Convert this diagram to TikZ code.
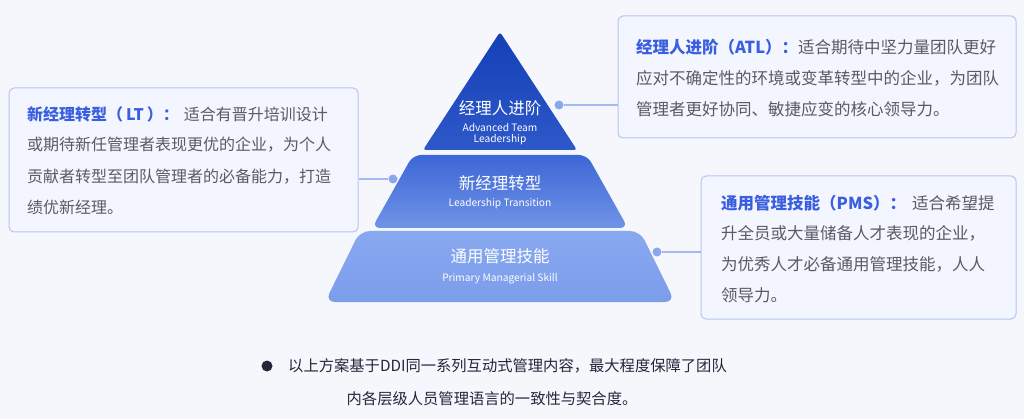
\documentclass[tikz,border=0pt]{standalone}
\usepackage{fontspec}
\setmainfont{Noto Sans CJK SC}
\newfontfamily\cjkfont{Noto Sans CJK SC}
\definecolor{bg}{HTML}{F5F7FD}
\definecolor{boxfill}{HTML}{F3F6FE}
\definecolor{boxline}{HTML}{B3C6F3}
\definecolor{conn}{HTML}{A2BAF0}
\definecolor{dotc}{HTML}{8AA7EE}
\definecolor{hdblue}{HTML}{3A5EE0}
\definecolor{bodygray}{HTML}{5A5A66}
\definecolor{darktxt}{HTML}{26263A}
\definecolor{topA}{HTML}{1440B6}
\definecolor{topB}{HTML}{2E58CA}
\definecolor{midA}{HTML}{3C66D6}
\definecolor{midB}{HTML}{7094E6}
\definecolor{botA}{HTML}{88A8F0}
\definecolor{botB}{HTML}{7C9DEB}
\begin{document}
\begin{tikzpicture}[x=1pt,y=-1pt,
  box/.style={draw=boxline, fill=boxfill, line width=1pt, rounded corners=5pt, inner sep=0pt},
  dotnode/.style={circle, fill=dotc, inner sep=0pt, minimum size=9pt},
  connline/.style={draw=conn, line width=1.2pt},
  bodytxt/.style={anchor=west, inner sep=0pt, text=bodygray, font=\fontsize{16}{16}\selectfont},
  bodytxtR/.style={anchor=west, inner sep=0pt, text=bodygray, font=\fontsize{16.5}{16.5}\selectfont},
  titletxt/.style={inner sep=0pt, text=white, font=\fontsize{16.5}{16.5}\selectfont},
  subtxt/.style={inner sep=0pt, text=white, font=\fontsize{10.2}{11.5}\selectfont, align=center},
  foot/.style={inner sep=0pt, text=darktxt, font=\fontsize{15.3}{15.3}\selectfont}
]
\newcommand{\hd}[1]{\textcolor{hdblue}{\bfseries #1}}
\fill[bg] (0,0) rectangle (1024,419);
\useasboundingbox (0,0) rectangle (1024,419);

% pyramid layers
\path[rounded corners=3pt, top color=topA, bottom color=topB]
  (500,32) -- (577,150) -- (423,150) -- cycle;
\path[rounded corners=8pt, top color=midA, bottom color=midB]
  (413,155) -- (587,155) -- (628,228) -- (372,228) -- cycle;
\path[rounded corners=10pt, top color=botA, bottom color=botB]
  (360,231) -- (640,231) -- (675,302) -- (325,302) -- cycle;

\node[titletxt] (t1) at (500,108) {经理人进阶};
\node[subtxt] (s1) at (500,134) {Advanced Team\\Leadership};
\node[titletxt] (t2) at (500,183) {新经理转型};
\node[subtxt] (s2) at (500,204) {Leadership Transition};
\node[titletxt] (t3) at (500,256) {通用管理技能};
\node[subtxt] (s3) at (500,279) {Primary Managerial Skill};

% boxes
\node[box, minimum width=349pt, minimum height=144pt] (boxL) at (183.5,160) {};
\node[box, minimum width=398pt, minimum height=122pt] (boxT) at (817,77) {};
\node[box, minimum width=315pt, minimum height=143pt] (boxB) at (858.5,247.5) {};

% dots and connectors
\node[dotnode] (dotT) at (559,105) {};
\node[dotnode] (dotL) at (393,179) {};
\node[dotnode] (dotB) at (657,252) {};
\draw[connline] (dotT) -- (boxT.west |- dotT);
\draw[connline] (dotL) -- (boxL.east |- dotL);
\draw[connline] (dotB) -- (boxB.west |- dotB);

% left box text
\node[bodytxt] (l1) at (27,114) {\hd{新经理转型（\hspace{3pt}LT\hspace{3pt}）：}\hspace{5pt}适合有晋升培训设计};
\node[bodytxt] (l2) at (27,145) {或期待新任管理者表现更优的企业，为个人};
\node[bodytxt] (l3) at (27,176.5) {贡献者转型至团队管理者的必备能力，打造};
\node[bodytxt] (l4) at (27,207) {绩优新经理。};

% right top text
\node[bodytxtR] (r1) at (636,47) {\hd{经理人进阶（ATL）：}适合期待中坚力量团队更好};
\node[bodytxtR] (r2) at (636,78) {应对不确定性的环境或变革转型中的企业，为团队};
\node[bodytxtR] (r3) at (636,109) {管理者更好协同、敏捷应变的核心领导力。};

% right bottom text
\node[bodytxtR] (b1) at (721,203) {\hd{通用管理技能（PMS）：}\hspace{6pt}适合希望提};
\node[bodytxtR] (b2) at (721,233.5) {升全员或大量储备人才表现的企业，};
\node[bodytxtR] (b3) at (721,264) {为优秀人才必备通用管理技能，人人};
\node[bodytxtR] (b4) at (721,295) {领导力。};

% footer
\node[circle, fill=darktxt, inner sep=0pt, minimum size=11pt] (bullet) at (267,366) {};
\node[foot, anchor=west] (f1) at (288,366) {以上方案基于DDI同一系列互动式管理内容，最大程度保障了团队};
\node[foot] (f2) at (492,399) {内各层级人员管理语言的一致性与契合度。};
\end{tikzpicture}
\end{document}
